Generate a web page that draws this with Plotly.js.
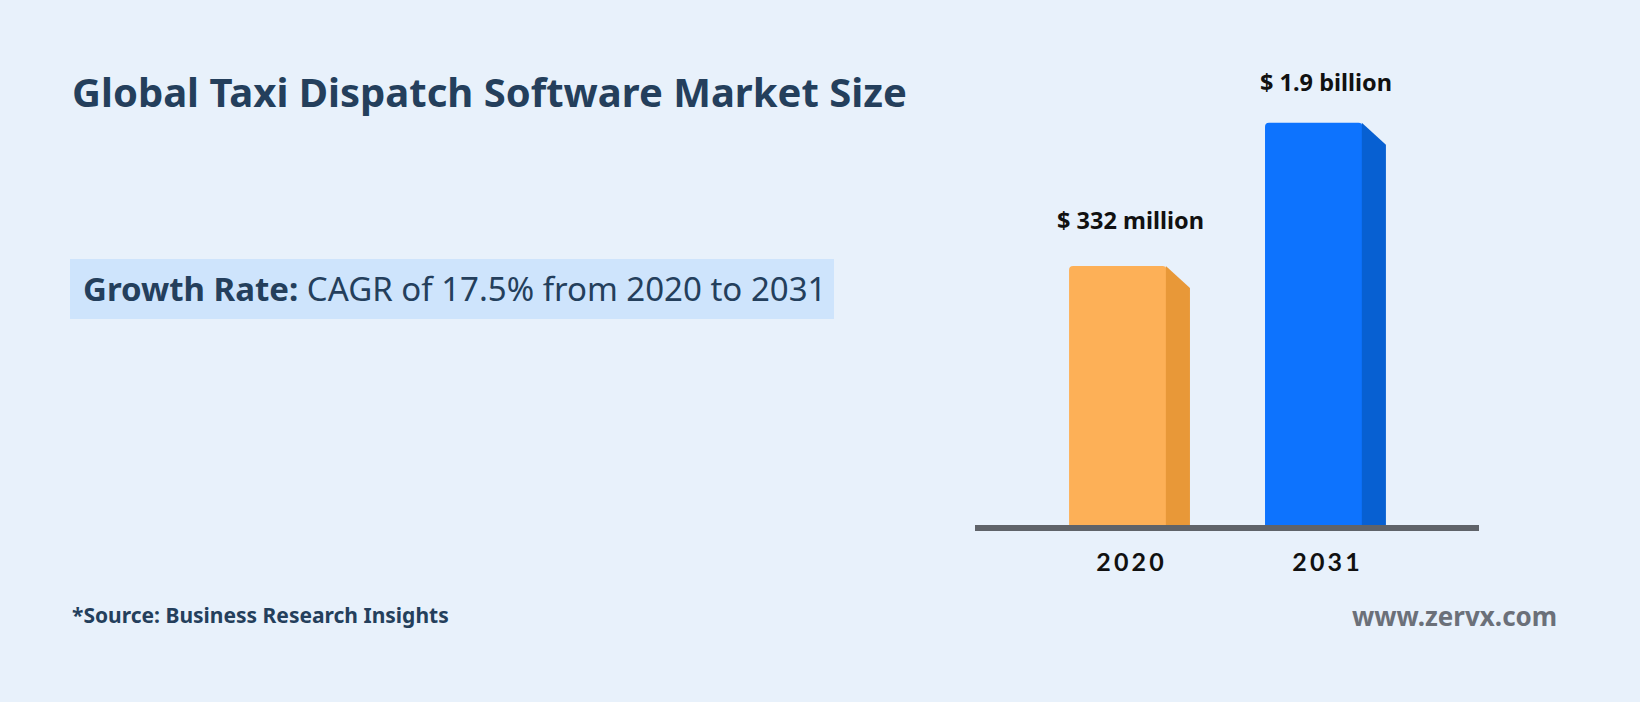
<!DOCTYPE html>
<html>
<head>
<meta charset="utf-8">
<script src="https://cdn.plot.ly/plotly-3.0.1.min.js"></script>
<style>html,body{margin:0;padding:0;background:#E8F1FB;}#chart{width:1640px;height:702px;}</style>
</head>
<body>
<div id="chart"></div>
<script>
// ---- data ----
const categories = ['2020', '2031'];
const marketSizeMillions = [332, 1900];
const frontColors = ['#FDB057', '#0D73FE'];
const sideColors = ['#E89838', '#0760D2'];
const titleText = 'Global Taxi Dispatch Software Market Size';
const growthLabel = 'Growth Rate:';
const growthText = 'CAGR of 17.5% from 2020 to 2031';
const sourceText = '*Source: Business Research Insights';
const siteText = 'www.zervx.com';

// ---- helpers ----
function fmtValue(m) {
  if (m >= 1000) return '$ ' + (m / 1000).toFixed(1).replace(/\.0$/, '') + ' billion';
  return '$ ' + m + ' million';
}
const W = 1640, H = 702;
const px = v => v / W;
const py = v => 1 - v / H;

const yRange = [1.1506, 3.611];
const slantFactor = Math.pow(10, -22 / 189);
const yBottom = Math.pow(10, yRange[0] - 0.5);

const traces = [{
  type: 'bar',
  x: categories.map((c, i) => i),
  y: marketSizeMillions,
  width: 0.497,
  offset: -0.311,
  marker: { color: frontColors, cornerradius: 4, line: { width: 0 } },
  hoverinfo: 'skip'
}];
marketSizeMillions.forEach((v, i) => {
  traces.push({
    type: 'scatter', mode: 'lines',
    x: [i + 0.183, i + 0.306, i + 0.306, i + 0.183, i + 0.183],
    y: [v, v * slantFactor, yBottom, yBottom, v],
    fill: 'toself', fillcolor: sideColors[i],
    line: { width: 0, color: sideColors[i] },
    hoverinfo: 'skip', showlegend: false
  });
});

const navy = '#243F5C';
const FONT = '"Noto Sans", "Open Sans", sans-serif';
const annotations = [
  { xref: 'paper', yref: 'paper', x: px(70), y: py(91), xanchor: 'left', yanchor: 'middle',
    text: titleText, showarrow: false,
    font: { family: FONT, size: 40, weight: 'bold', color: navy } },
  { xref: 'paper', yref: 'paper', x: px(81), y: py(288), xanchor: 'left', yanchor: 'middle',
    text: '<b>' + growthLabel + '</b> ' + growthText, showarrow: false,
    font: { family: FONT, size: 33, color: navy } },
  { xref: 'paper', yref: 'paper', x: px(70), y: py(615), xanchor: 'left', yanchor: 'middle',
    text: sourceText, showarrow: false,
    font: { family: FONT, size: 21, weight: 'bold', color: navy } },
  { xref: 'paper', yref: 'paper', x: px(1559), y: py(616), xanchor: 'right', yanchor: 'middle',
    text: siteText, showarrow: false,
    font: { family: FONT, size: 26, weight: 'bold', color: '#6B7079' } }
];
const labelShift = [46, 41];
marketSizeMillions.forEach((v, i) => {
  annotations.push({
    xref: 'x', yref: 'y', x: i, y: Math.log10(v), yshift: labelShift[i],
    xanchor: 'center', yanchor: 'middle', showarrow: false,
    text: fmtValue(v),
    font: { family: FONT, size: 23.5, weight: 'bold', color: '#111111' }
  });
});

const layout = {
  width: W, height: H,
  margin: { l: 0, r: 0, t: 0, b: 0 },
  paper_bgcolor: '#E8F1FB',
  plot_bgcolor: 'rgba(0,0,0,0)',
  showlegend: false,
  xaxis: {
    domain: [px(975), px(1479)],
    range: [-0.791, 1.781],
    tickvals: categories.map((c, i) => i),
    ticktext: categories.map(c => c.split('').join('\u2009')),
    ticks: '', showgrid: false, zeroline: false,
    showline: true, linecolor: '#5F6369', linewidth: 6,
    ticklabelstandoff: 10,
    tickfont: { family: 'Lato, sans-serif', size: 25, weight: 'bold', color: '#111111' },
    fixedrange: true
  },
  yaxis: {
    type: 'log', range: yRange,
    domain: [py(525), py(60)],
    visible: false, showgrid: false, zeroline: false, fixedrange: true
  },
  shapes: [{
    type: 'rect', xref: 'paper', yref: 'paper', layer: 'below',
    x0: px(70), x1: px(834), y0: py(319), y1: py(259),
    fillcolor: '#CEE4FC', line: { width: 0 }
  }],
  annotations: annotations
};

Plotly.newPlot('chart', traces, layout, { staticPlot: true, displayModeBar: false });
</script>
</body>
</html>
